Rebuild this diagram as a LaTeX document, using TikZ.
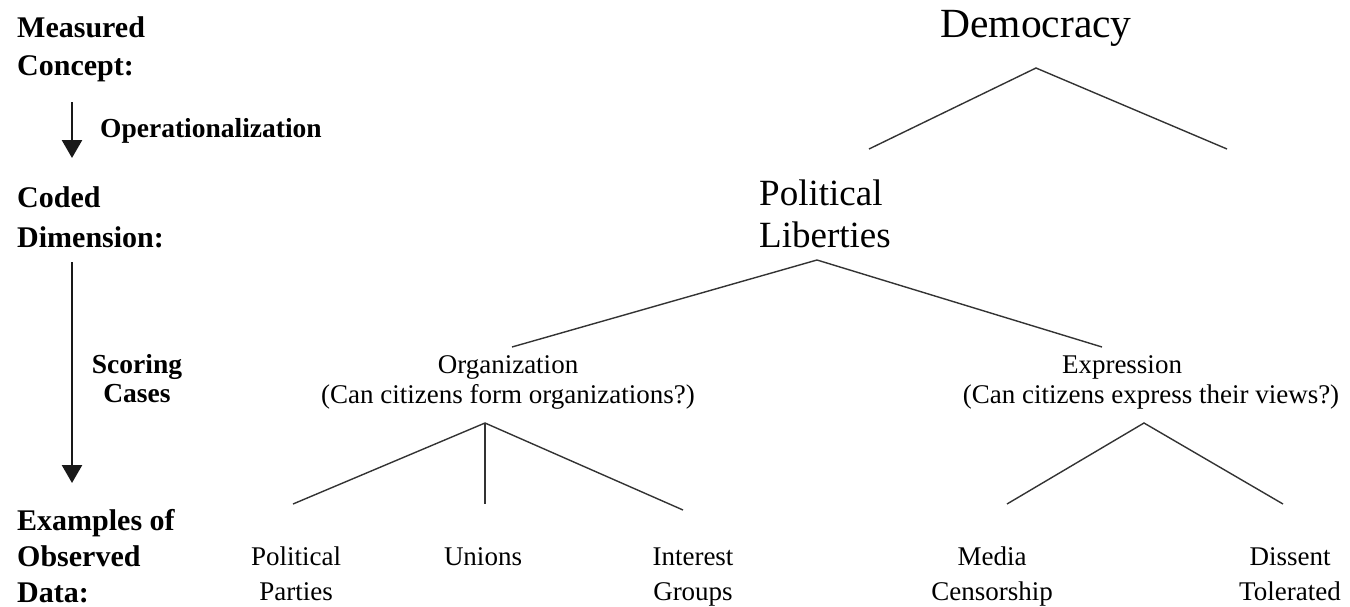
\documentclass[tikz,border=0pt]{standalone}
\usepackage{fontspec}
\setmainfont{Liberation Serif}
\usetikzlibrary{arrows.meta}
\begin{document}
\begin{tikzpicture}[x=1pt,y=-1pt,
  lbl/.style={font=\bfseries\fontsize{30}{38}\selectfont, anchor=base west, align=left, inner sep=0pt},
  act/.style={font=\bfseries\fontsize{27.5}{29}\selectfont, anchor=base, align=center, inner sep=0pt},
  tnode/.style={inner sep=0pt, anchor=base, align=center},
  leaf/.style={tnode, font=\fontsize{27}{35}\selectfont},
  branch/.style={line width=1.4pt, draw=black!80},
  flow/.style={line width=2.6pt, draw=black!90, -{Triangle[width=20pt,length=18pt]}}]
\useasboundingbox (0,0) rectangle (1350,606);

% left column labels (anchor = baseline of last line)
\node[lbl] (concept) at (17,75) {Measured\\Concept:};
\node[lbl, font=\bfseries\fontsize{30}{40}\selectfont] (dimension) at (17,247) {Coded\\Dimension:};
\node[lbl, font=\bfseries\fontsize{30}{36}\selectfont] (observed) at (17,602) {Examples of\\Observed\\Data:};

\coordinate (a1s) at (72,102);
\coordinate (a1e) at (72,158);
\coordinate (a2s) at (72,262);
\coordinate (a2e) at (72,483);
\draw[flow] (a1s) -- (a1e);
\draw[flow] (a2s) -- (a2e);
\node[act, anchor=base west] (oper) at (100,137) {Operationalization};
\node[act] (scoring) at (137,402) {Scoring\\Cases};

% tree nodes
\node[tnode, font=\fontsize{41.5}{45}\selectfont] (demo) at (1036,37) {Democracy};
\node[tnode, anchor=base west, align=left, font=\fontsize{37}{42}\selectfont] (pl) at (759,247) {Political\\Liberties};
\node[tnode, font=\fontsize{27}{30}\selectfont] (org) at (508,403) {Organization\\(Can citizens form organizations?)};
\node[tnode, font=\fontsize{27}{30}\selectfont] (expr) at (1151,403) {Expression\hspace*{58pt}\\(Can citizens express their views?)};

\node[leaf] (parties) at (296,600) {Political\\Parties};
\node[leaf] (unions) at (483,565) {Unions};
\node[leaf] (groups) at (693,600) {Interest\\Groups};
\node[leaf] (media) at (992,600) {Media\\Censorship};
\node[leaf] (dissent) at (1290,600) {Dissent\\Tolerated};

% connector points
\coordinate (demoB) at (1036,68);
\coordinate (plT) at (869,149);
\coordinate (xT) at (1227,149);
\coordinate (plB) at (817,260);
\coordinate (orgT) at (512,347);
\coordinate (exprT) at (1102,347);
\coordinate (orgB) at (485,423);
\coordinate (partiesT) at (293,504);
\coordinate (unionsT) at (485,504);
\coordinate (groupsT) at (683,510);
\coordinate (exprB) at (1144,423);
\coordinate (mediaT) at (1007,504);
\coordinate (dissentT) at (1283,504);

\draw[branch] (plT) -- (demoB) -- (xT);
\draw[branch] (orgT) -- (plB) -- (exprT);
\draw[branch] (partiesT) -- (orgB) -- (groupsT);
\draw[branch] (orgB) -- (unionsT);
\draw[branch] (mediaT) -- (exprB) -- (dissentT);
\end{tikzpicture}
\end{document}
